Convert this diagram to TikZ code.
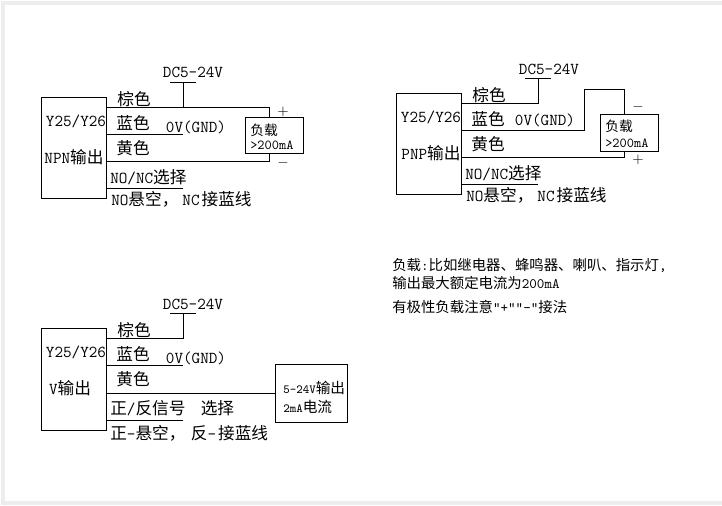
\documentclass[tikz,border=0pt]{standalone}
\usepackage{fontspec}
\newfontfamily\zhfont{Noto Sans CJK SC}
\newcommand{\zh}[1]{{\zhfont #1}}
\newcommand{\zhsmall}[1]{{\fontsize{11}{11}\selectfont\zhfont #1}}
\usetikzlibrary{positioning}

\tikzset{
  wire/.style={draw=black, line width=0.75pt},
  unitbox/.style={draw=black, line width=0.75pt, inner sep=0pt, minimum width=#1},
  wirelabel/.style={font=\fontsize{12.5}{12.5}\selectfont\ttfamily, inner sep=0pt},
  leftlabel/.style={wirelabel, anchor=west},
  signlabel/.style={font=\fontsize{11}{11}\selectfont, inner sep=0pt},
  loadlabel/.style={font=\fontsize{10.3}{10.3}\selectfont\ttfamily, inner sep=0pt, anchor=west},
  smalllabel/.style={font=\fontsize{9.3}{9.3}\selectfont\ttfamily, inner sep=0pt, anchor=west},
  notelabel/.style={font=\fontsize{10.8}{10.8}\selectfont\ttfamily, inner sep=0pt, anchor=west}
}

\begin{document}
\begin{tikzpicture}[x=0.75pt, y=-0.75pt]

  % === Fond et cadre gris ===
  \useasboundingbox (0,0) rectangle (722,506);
  \fill[white] (0,0) rectangle (722,506);
  \draw[black!7, line width=3pt] (722,3) -- (3,3) -- (3,503) -- (722,503);

  % === NPN ===
  \node[unitbox=65.7pt*0.75, minimum height=101pt*0.75] (npn) at (74,148.5) {};
  \node[unitbox=58pt*0.75, minimum height=36pt*0.75] (npnload) at (274,136) {};

  \coordinate (npnbrown) at (npn.east |- 0,108);
  \coordinate (npnblue) at (npn.east |- 0,135);
  \coordinate (npnyellow) at (npn.east |- 0,162);
  \coordinate (npnsel) at (npn.east |- 0,189);
  \coordinate (npndc) at (183,108);
  \coordinate (npndctop) at (183,83);
  \coordinate (npnblueend) at (183,135);
  \coordinate (npnselend) at (183,189);
  \coordinate (npnplus) at (269,108);
  \coordinate (npnminus) at (269,162);

  \draw[wire] (npnbrown) -- (npnplus) -- (npnplus |- npnload.north);
  \draw[wire] (npnyellow) -- (npnminus) -- (npnminus |- npnload.south);
  \draw[wire] (npnblue) -- (npnblueend);
  \draw[wire] (npnsel) -- (npnselend);
  \draw[wire] (npndc) -- (npndctop);
  \draw[wire] (170,83) -- (196,83);

  \node[wirelabel] (npndclabel) at (193,72) {DC5-24V};
  \node[wirelabel] (npnid) at (76,121) {Y25/Y26};
  \node[wirelabel] (npntype) at (74,157) {NPN\zh{输出}};
  \node[wirelabel] (npnbrownlabel) at (134,99) {\zh{棕色}};
  \node[wirelabel] (npnbluelabel) at (133,123) {\zh{蓝色}};
  \node[wirelabel] (npnyellowlabel) at (133,148) {\zh{黄色}};
  \node[wirelabel] (npngnd) at (196,127) {0V(GND)};
  \node[signlabel] (npnplussign) at (283,112) {$+$};
  \node[signlabel] (npnminussign) at (283,163) {$-$};
  \node[loadlabel] (npnloadtext) at (250,130) {\zh{负载}};
  \node[loadlabel] (npnloadmax) at (250,145) {>200mA};
  \node[leftlabel] (npnseltext) at (110,177) {NO/NC\zh{选择}};
  \node[leftlabel] (npnnote) at (111,199) {NO\zh{悬空，}\hspace{3pt}NC\hspace{1.5pt}\zh{接蓝线}};

  % === PNP ===
  \node[unitbox=65.7pt*0.75, minimum height=101pt*0.75] (pnp) at (429,144.5) {};
  \node[unitbox=58pt*0.75, minimum height=37pt*0.75] (pnpload) at (629,133.5) {};

  \coordinate (pnpbrown) at (pnp.east |- 0,104);
  \coordinate (pnpblue) at (pnp.east |- 0,131);
  \coordinate (pnpyellow) at (pnp.east |- 0,158);
  \coordinate (pnpsel) at (pnp.east |- 0,185);
  \coordinate (pnpdc) at (538,104);
  \coordinate (pnpdctop) at (538,79);
  \coordinate (pnpbend) at (584,131);
  \coordinate (pnpbendtop) at (584,90);
  \coordinate (pnpminus) at (624,90);
  \coordinate (pnpplus) at (624,158);
  \coordinate (pnpselend) at (538,185);

  \draw[wire] (pnpbrown) -- (pnpdc) -- (pnpdctop);
  \draw[wire] (525,79) -- (551,79);
  \draw[wire] (pnpblue) -- (pnpbend) -- (pnpbendtop) -- (pnpminus) -- (pnpminus |- pnpload.north);
  \draw[wire] (pnpyellow) -- (pnpplus) -- (pnpplus |- pnpload.south);
  \draw[wire] (pnpsel) -- (pnpselend);

  \node[wirelabel] (pnpdclabel) at (549,69) {DC5-24V};
  \node[wirelabel] (pnpid) at (431,117) {Y25/Y26};
  \node[wirelabel] (pnptype) at (431,153) {PNP\zh{输出}};
  \node[wirelabel] (pnpbrownlabel) at (489,95) {\zh{棕色}};
  \node[wirelabel] (pnpbluelabel) at (488,119) {\zh{蓝色}};
  \node[wirelabel] (pnpyellowlabel) at (488,144) {\zh{黄色}};
  \node[wirelabel] (pnpgnd) at (545,120) {0V(GND)};
  \node[signlabel] (pnpminussign) at (638,107) {$-$};
  \node[signlabel] (pnpplussign) at (638,160) {$+$};
  \node[loadlabel] (pnploadtext) at (605,126) {\zh{负载}};
  \node[loadlabel] (pnploadmax) at (605,143) {>200mA};
  \node[leftlabel] (pnpseltext) at (465,173) {NO/NC\zh{选择}};
  \node[leftlabel] (pnpnote) at (466,195) {NO\zh{悬空，}\hspace{3pt}NC\hspace{1.5pt}\zh{接蓝线}};

  % === Sortie V ===
  \node[unitbox=65.7pt*0.75, minimum height=101pt*0.75] (vout) at (74,379.5) {};
  \node[unitbox=72pt*0.75, minimum height=57pt*0.75] (voutload) at (311,393.5) {};

  \coordinate (voutbrown) at (vout.east |- 0,339);
  \coordinate (voutblue) at (vout.east |- 0,366);
  \coordinate (voutyellow) at (vout.east |- 0,393);
  \coordinate (voutsel) at (vout.east |- 0,420);
  \coordinate (voutdc) at (183,339);
  \coordinate (voutdctop) at (183,314);
  \coordinate (voutblueend) at (183,366);
  \coordinate (voutselend) at (183,420);

  \draw[wire] (voutbrown) -- (voutdc) -- (voutdctop);
  \draw[wire] (170,314) -- (196,314);
  \draw[wire] (voutblue) -- (voutblueend);
  \draw[wire] (voutyellow) -- (voutyellow -| voutload.west);
  \draw[wire] (voutsel) -- (voutselend);

  \node[wirelabel] (voutdclabel) at (193,304) {DC5-24V};
  \node[wirelabel] (voutid) at (76,352) {Y25/Y26};
  \node[wirelabel] (vouttype) at (70,388) {V\zh{输出}};
  \node[wirelabel] (voutbrownlabel) at (134,330) {\zh{棕色}};
  \node[wirelabel] (voutbluelabel) at (133,354) {\zh{蓝色}};
  \node[wirelabel] (voutyellowlabel) at (133,379) {\zh{黄色}};
  \node[wirelabel] (voutgnd) at (196,358) {0V(GND)};
  \node[smalllabel] (voutloadtext) at (283,388) {5-24V\zhsmall{输出}};
  \node[smalllabel] (voutloadmax) at (283,407) {2mA\zhsmall{电流}};
  \node[leftlabel] (voutseltext) at (110,408) {\zh{正}/\zh{反信号}~\hspace{5pt}\zh{选择}};
  \node[leftlabel] (voutnote) at (110,433) {\zh{正}-\zh{悬空，}\hspace{4pt}\zh{反}-\hspace{1.5pt}\zh{接蓝线}};

  % === Remarques ===
  \node[notelabel] (noteone) at (392,265) {\zh{负载}:\zh{比如继电器、蜂鸣器、喇叭、指示灯},};
  \node[notelabel] (notetwo) at (392,283) {\zh{输出最大额定电流为}200mA};
  \node[notelabel] (notethree) at (392,307) {\zh{有极性负载注意}"+""-"\zh{接法}};

\end{tikzpicture}
\end{document}
